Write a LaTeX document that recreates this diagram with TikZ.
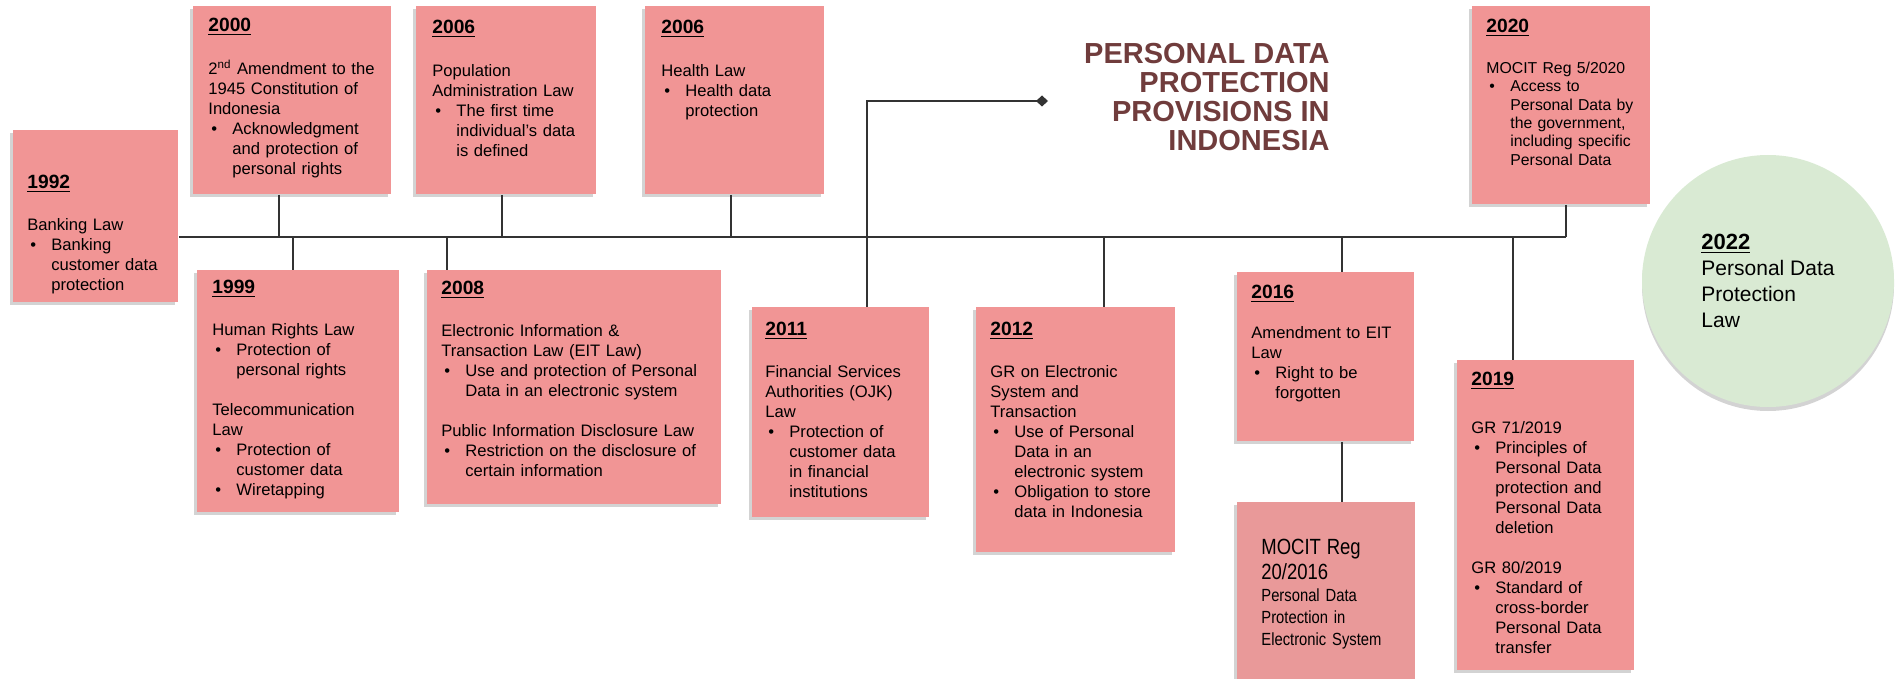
\documentclass[tikz,border=0pt]{standalone}
\usepackage{fontspec}
\setmainfont{Liberation Sans}
\newfontfamily\narrowfont[FakeStretch=0.84]{Liberation Sans}
\usetikzlibrary{arrows.meta,shadows,positioning}
\definecolor{cardpink}{RGB}{241,149,149}
\definecolor{regpink}{RGB}{233,153,153}
\definecolor{lawgreen}{RGB}{217,234,211}
\definecolor{titlebrown}{RGB}{112,60,60}
\newcommand\yr[1]{{\fontsize{9.6}{10}\selectfont\bfseries\underline{#1}}}
\newcommand\bl{\hspace*{1.5pt}\makebox[10.5pt][l]{\textbullet}}
\newcommand\hg{\hspace*{12pt}}
\newcommand\bigreg{\fontsize{11}{12.5}\selectfont}

\begin{document}
\begin{tikzpicture}[x=0.5pt,y=-0.5pt,
  card/.style={fill=cardpink,anchor=north west,align=left,inner xsep=7pt,inner ysep=0pt,
    font=\fontsize{8.3}{10}\selectfont,
    drop shadow={shadow xshift=-1.5pt,shadow yshift=-1.5pt,opacity=.35}},
  link/.style={draw=black!80,line width=1pt}]
\useasboundingbox (0,0) rectangle (1895,679);

\node[card,text width=68.5pt,text height=29pt,text depth=57pt] (Y92) at (13,130)
  {\yr{1992}\\[11pt] Banking Law\\ \bl Banking\\ \hg customer data\\ \hg protection};
\node[card,inner xsep=7.5pt,text width=84pt,text height=12.5pt,text depth=81.5pt] (Y00) at (193,6)
  {\yr{2000}\\[11.5pt] \mbox{2\textsuperscript{nd} Amendment to the}\\ 1945 Constitution of\\ Indonesia\\
   \bl Acknowledgment\\ \hg and protection of\\ \hg personal rights};
\node[card,inner xsep=8pt,text width=74pt,text height=13.5pt,text depth=80.5pt] (Y06p) at (416,6)
  {\yr{2006}\\[11.5pt] Population\\ Administration Law\\ \bl The first time\\ \hg individual’s data\\ \hg is defined};
\node[card,inner xsep=8pt,text width=73.5pt,text height=13.5pt,text depth=80.5pt] (Y06h) at (645,6)
  {\yr{2006}\\[11.5pt] Health Law\\ \bl Health data\\ \hg protection};
\node[card,font=\fontsize{7.9}{9.2}\selectfont,text width=75pt,text height=13pt,text depth=86pt] (Y20) at (1472,6)
  {\yr{2020}\\[11.3pt] MOCIT Reg 5/2020\\ \bl Access to\\ \hg Personal Data by\\ \hg the government,\\
   \hg including specific\\ \hg Personal Data};

\node[card,inner xsep=7.5pt,text width=86pt,text height=11.5pt,text depth=109.5pt] (Y99) at (197,270)
  {\yr{1999}\\[11pt] Human Rights Law\\ \bl Protection of\\ \hg personal rights\\[10pt]
   Telecommunication\\ Law\\ \bl Protection of\\ \hg customer data\\ \bl Wiretapping};
\node[card,text width=133pt,text height=12pt,text depth=105pt] (Y08) at (427,270)
  {\yr{2008}\\[11pt] Electronic Information \&\\ Transaction Law (EIT Law)\\
   \bl Use and protection of Personal\\ \hg Data in an electronic system\\[10pt]
   Public Information Disclosure Law\\ \bl Restriction on the disclosure of\\ \hg certain information};
\node[card,inner xsep=6.5pt,text width=75.5pt,text height=14pt,text depth=91pt] (Y11) at (752,307)
  {\yr{2011}\\[11pt] Financial Services\\ Authorities (OJK)\\ Law\\ \bl Protection of\\
   \hg customer data\\ \hg in financial\\ \hg institutions};
\node[card,text width=85.5pt,text height=14pt,text depth=108.5pt] (Y12) at (976,307)
  {\yr{2012}\\[11pt] GR on Electronic\\ System and\\ Transaction\\ \bl Use of Personal\\
   \hg Data in an\\ \hg electronic system\\ \bl Obligation to store\\ \hg data in Indonesia};
\node[card,text width=74.5pt,text height=13pt,text depth=71.5pt] (Y16) at (1237,272)
  {\yr{2016}\\[10pt] Amendment to EIT\\ Law\\ \bl Right to be\\ \hg forgotten};
\node[card,fill=regpink,below=30pt of Y16.south west,anchor=north west,inner xsep=12pt,
  font=\narrowfont\fontsize{8.8}{11}\selectfont,text width=65pt,text height=26pt,text depth=63pt] (R16)
  {{\bigreg MOCIT Reg}\\[1.5pt] {\bigreg 20/2016}\\ Personal Data\\ Protection in\\ Electronic System};
\node[card,text width=74.5pt,text height=12.5pt,text depth=142.5pt] (Y19) at (1457,360)
  {\yr{2019}\\[14pt] GR 71/2019\\ \bl Principles of\\ \hg Personal Data\\ \hg protection and\\
   \hg Personal Data\\ \hg deletion\\[10pt] GR 80/2019\\ \bl Standard of\\ \hg cross-border\\
   \hg Personal Data\\ \hg transfer};

\node[circle,fill=lawgreen,minimum size=126pt,inner sep=0pt,align=left,font=\fontsize{10.5}{13}\selectfont,
  drop shadow={shadow xshift=0pt,shadow yshift=-2pt,opacity=.35}] (L22) at (1768,281)
  {{\fontsize{11}{13}\selectfont\bfseries\underline{2022}}\\ Personal Data\\ Protection\\ Law};

\node[anchor=north east,align=right,inner sep=0pt,text=titlebrown,
  font=\fontsize{14.5}{14.5}\selectfont\bfseries] (T) at (1330,43)
  {PERSONAL DATA\\ PROTECTION\\ PROVISIONS IN\\ INDONESIA};

\foreach \n/\x in {Y00/279,Y06p/502,Y06h/731,Y20/1566,Y99/293,Y08/447,Y11/867,Y12/1104,Y16/1342,Y19/1513}
  \coordinate (j\n) at (\x,237);
\coordinate (tip) at (1048,101);

\draw[link] (Y92.east |- jY00) -- (jY20);
\foreach \n in {Y00,Y06p,Y06h,Y20}
  \draw[link] (\n.south -| j\n) -- (j\n);
\foreach \n in {Y99,Y08,Y12,Y16,Y19}
  \draw[link] (j\n) -- (\n.north -| j\n);
\draw[link] (Y16.south -| jY16) -- (R16.north -| jY16);
\draw[link,-{Diamond[length=6pt,width=5.5pt]}] (Y11.north -| jY11) |- (tip);
\end{tikzpicture}
\end{document}
